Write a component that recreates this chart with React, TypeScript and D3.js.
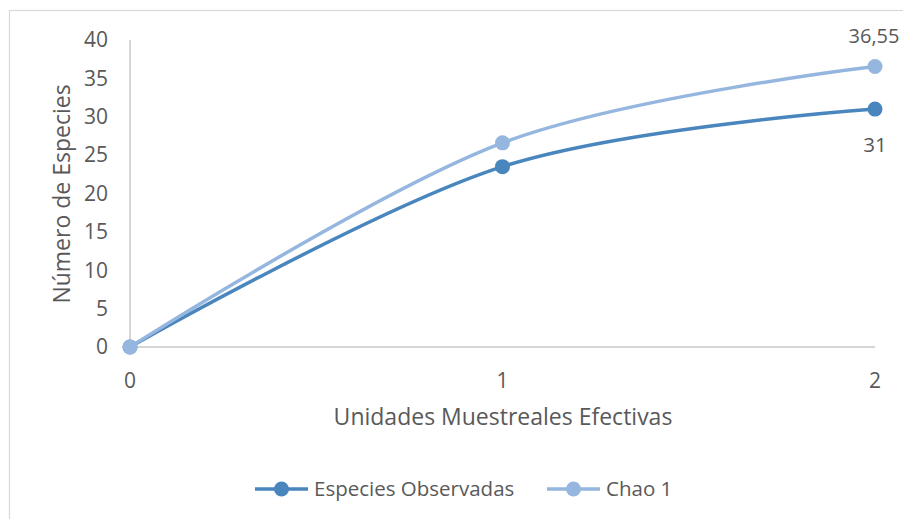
import React from "react";
import * as d3 from "d3";

const xValues = [0, 1, 2];
const observed = [0, 23.5, 31];
const chao = [0, 26.6, 36.55];
const yTicks = [0, 5, 10, 15, 20, 25, 30, 35, 40];
const xTicks = [0, 1, 2];
const seriesNames = ["Especies Observadas", "Chao 1"];
const lastLabels = ["31", "36,55"];

const W = 903;
const H = 519;
const FONT = "'Open Sans', sans-serif";
const TEXT = "#595959";
const C_OBS = "#4A86BE";
const C_CHAO = "#95B6DE";

export default function App() {
  const x = d3.scaleLinear().domain([0, 2]).range([130, 875]);
  const y = d3.scaleLinear().domain([0, 40]).range([347, 40]);
  const line = d3
    .line<number>()
    .x((_, i) => x(xValues[i]))
    .y((d) => y(d))
    .curve(d3.curveCatmullRom.alpha(0));

  const series = [
    { name: seriesNames[0], data: observed, color: C_OBS },
    { name: seriesNames[1], data: chao, color: C_CHAO },
  ];

  return (
    <svg
      width={W}
      height={H}
      style={{ position: "absolute", left: 0, top: 0, background: "#fff" }}
      fontFamily={FONT}
    >
      <rect x={9.5} y={10.5} width={1000} height={1000} fill="none" stroke="#D9D9D9" strokeWidth={1.2} />
      <line x1={x(0)} x2={x(0)} y1={y(40)} y2={y(0)} stroke="#C8C8C8" strokeWidth={1.5} />
      <line x1={x(0)} x2={x(2)} y1={y(0)} y2={y(0)} stroke="#C8C8C8" strokeWidth={1.5} />
      {yTicks.map((t) => (
        <text key={t} x={108} y={y(t)} dy="0.35em" textAnchor="end" fontSize={21} fill={TEXT}>
          {t}
        </text>
      ))}
      {xTicks.map((t) => (
        <text key={t} x={x(t)} y={381} dy="0.35em" textAnchor="middle" fontSize={21} fill={TEXT}>
          {t}
        </text>
      ))}
      <text x={503} y={417} dy="0.35em" textAnchor="middle" fontSize={23} fill={TEXT}>
        Unidades Muestreales Efectivas
      </text>
      <text
        transform={`translate(62,194) rotate(-90)`}
        dy="0.35em"
        textAnchor="middle"
        fontSize={23}
        fill={TEXT}
      >
        Número de Especies
      </text>
      {series.map((s) => (
        <g key={s.name}>
          <path d={line(s.data) || ""} fill="none" stroke={s.color} strokeWidth={3.5} strokeLinecap="round" />
          {s.data.map((v, i) => (
            <circle key={i} cx={x(xValues[i])} cy={y(v)} r={7.5} fill={s.color} />
          ))}
        </g>
      ))}
      <text x={x(2)} y={y(observed[2]) + 36} dy="0.35em" textAnchor="middle" fontSize={20.5} fill={TEXT}>
        {lastLabels[0]}
      </text>
      <text x={x(2) - 1} y={y(chao[2]) - 30} dy="0.35em" textAnchor="middle" fontSize={20} fill={TEXT}>
        {lastLabels[1]}
      </text>
      {series.map((s, i) => {
        const lx = i === 0 ? 255 : 547;
        return (
          <g key={s.name}>
            <line x1={lx} x2={lx + 53} y1={489} y2={489} stroke={s.color} strokeWidth={3.5} />
            <circle cx={lx + 26.5} cy={489} r={7.5} fill={s.color} />
            <text x={lx + 59} y={489} dy="0.35em" fontSize={20.5} fill={TEXT}>
              {s.name}
            </text>
          </g>
        );
      })}
    </svg>
  );
}
